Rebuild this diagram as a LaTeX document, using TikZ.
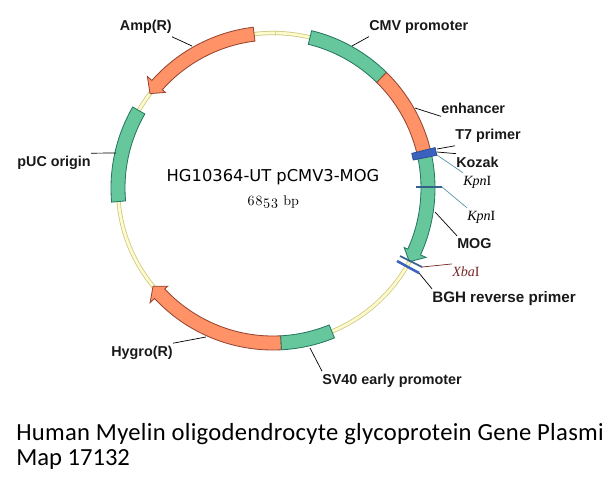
\documentclass[tikz,border=0pt]{standalone}
\usepackage{fontspec}
\setmainfont{Liberation Sans}
\newfontfamily\sitefont{Liberation Serif}
\newfontfamily\titlefont{DejaVu Sans}
\newfontfamily\capfont{Carlito}
\newfontfamily\sizefont[Numbers=OldStyle]{Latin Modern Roman}
\usetikzlibrary{positioning}
\definecolor{genegreen}{RGB}{102, 199, 156}
\definecolor{greenedge}{RGB}{38, 120, 96}
\definecolor{geneorange}{RGB}{255, 146, 102}
\definecolor{orangeedge}{RGB}{150, 70, 50}
\definecolor{primerblue}{RGB}{58, 98, 190}
\definecolor{siteblue}{RGB}{52, 96, 140}
\definecolor{sitelead}{RGB}{90, 150, 165}
\definecolor{sitered}{RGB}{120, 40, 40}
\definecolor{ringpale}{RGB}{253, 251, 205}
\definecolor{ringedge}{RGB}{205, 198, 130}

% plain band between two angles
\newcommand{\bandarc}[4]{
    \draw[band, fill=#3, draw=#4] (#1:162) arc[start angle=#1, end angle=#2, radius=162]
        -- (#2:148) arc[start angle=#2, end angle=#1, radius=148] -- cycle;
}
% band with a head: start, head base, tip
\newcommand{\bandarrow}[5]{
    \draw[band, fill=#4, draw=#5] (#1:162) arc[start angle=#1, end angle=#2, radius=162]
        -- (#2:168) -- (#3:155) -- (#2:144)
        -- (#2:148) arc[start angle=#2, end angle=#1, radius=148] -- cycle;
}

\begin{document}
\begin{tikzpicture}[
        x=0.025cm, y=0.025cm,
        band/.style={line width=0.6pt, line join=miter},
        label/.style={font=\fontsize{10.2}{12}\selectfont\bfseries, inner xsep=0pt, inner ysep=2pt, text=black!90},
        sitelabel/.style={font=\fontsize{10}{12}\selectfont\sitefont, inner xsep=0pt, inner ysep=2pt},
        lead/.style={line width=0.5pt, black},
        sitecut/.style={line width=1.2pt, siteblue}
    ]
    \useasboundingbox (0,0) rectangle (602,483);

    \begin{scope}[shift={(273,295)}]
        % Backbone
        \draw[ringedge, line width=3pt] (0,0) circle (155);
        \draw[ringpale, line width=1.9pt] (0,0) circle (155);
        \draw[ringedge, line width=0.4pt] (89:152.5) -- (89:157.5);

        % Features
        \bandarrow{97}{138.4}{142.5}{geneorange}{orangeedge}
        \bandarc{76.2}{45.5}{genegreen}{greenedge}
        \bandarc{45.5}{13}{geneorange}{orangeedge}
        \bandarrow{12}{-24.4}{-28.4}{genegreen}{greenedge}
        \bandarc{150}{185}{genegreen}{greenedge}
        \bandarrow{273}{223}{219.3}{geneorange}{orangeedge}
        \bandarc{273}{292.3}{genegreen}{greenedge}

        % T7 primer and Kozak
        \draw[band, fill=primerblue, draw=primerblue!80!black] (11.3:143) arc[start angle=11.3, end angle=14, radius=143]
            -- (14:167) arc[start angle=14, end angle=11.3, radius=167] -- cycle;
    \end{scope}

    % Sites on the band
    \coordinate (kpn_a) at (416,296);
    \coordinate (kpn_b) at (442,296);
    \coordinate (xba_a) at (400,227);
    \coordinate (xba_b) at (422,216);
    \coordinate (bgh_a) at (397,222);
    \coordinate (bgh_b) at (419,210);
    \draw[sitecut] (kpn_a) -- (kpn_b);
    \draw[sitecut] (xba_a) -- (xba_b);
    \draw[sitecut, primerblue, line width=1.8pt] (bgh_a) -- (bgh_b);

    % Labels
    \node[label, anchor=east] (amp) at (172,456) {Amp(R)};
    \node[label, anchor=west] (cmv) at (369,456) {CMV promoter};
    \node[label, anchor=west] (enh) at (441,375) {enhancer};
    \node[label, anchor=west] (t7) at (455,347) {T7 primer};
    \node[label, anchor=west] (koz) at (456,321) {Kozak};
    \node[label, anchor=west] (mog) at (457,239) {MOG};
    \node[label, anchor=west, font=\fontsize{10.8}{12}\selectfont\bfseries] (bgh) at (432,184) {BGH reverse primer};
    \node[label, anchor=west] (sv) at (322,102) {SV40 early promoter};
    \node[label, anchor=east] (hyg) at (173,130) {Hygro(R)};
    \node[label, anchor=east] (puc) at (91,320) {pUC origin};

    \node[sitelabel, anchor=west] (kpn1) at (463,301) {\textit{Kpn}I};
    \node[sitelabel, anchor=west] (kpn2) at (467,266) {\textit{Kpn}I};
    \node[sitelabel, anchor=west, text=sitered] (xba) at (452,211) {\textit{Xba}I};

    % Leaders
    \coordinate (amp_pt) at (192,437);
    \coordinate (cmv_pt) at (352,437);
    \coordinate (enh_pt) at (415,375);
    \coordinate (t7_pt) at (437,334);
    \coordinate (koz_pt) at (437,331);
    \coordinate (kpn1_pt) at (437,328);
    \coordinate (mog_pt) at (435,271);
    \coordinate (sv_pt) at (310,135);
    \coordinate (hyg_pt) at (206,146);
    \coordinate (puc_pt) at (116,330);

    \draw[lead] (amp_pt) -- (amp.south east);
    \draw[lead] (cmv_pt) -- (cmv.south west);
    \draw[lead] (enh_pt) -- (enh.south west);
    \draw[lead] (t7_pt) -- (t7.south west);
    \draw[lead] (koz_pt) -- (koz.north west);
    \draw[lead] (mog_pt) -- (mog.north west);
    \draw[lead] (bgh_b) -- (bgh.north west);
    \draw[lead] (sv_pt) -- (sv.north west);
    \draw[lead] (hyg_pt) -- (hyg.north east);
    \draw[lead] (puc_pt) -- (puc.north east);
    \draw[lead, sitelead] (kpn1_pt) -- (kpn1.north west);
    \draw[lead, sitelead] (kpn_b) -- (kpn2.north west);
    \draw[lead, sitered] (xba_b) -- (xba.north west);

    % Centre text
    \node[font=\fontsize{11.6}{13}\selectfont\titlefont, inner sep=0pt] (title) at (273,306) {HG10364-UT pCMV3-MOG};
    \node[font=\fontsize{10}{12}\selectfont\sizefont, inner sep=0pt] (size) at (273,281) {6853 bp};

    % Caption
    \node[font=\fontsize{17.5}{17.8}\selectfont\capfont, anchor=north west, align=left, inner sep=0pt] (caption) at (16,60)
        {\addfontfeature{LetterSpace=1.2}Human Myelin oligodendrocyte glycoprotein Gene Plasmid\\Map 17132};
\end{tikzpicture}
\end{document}
